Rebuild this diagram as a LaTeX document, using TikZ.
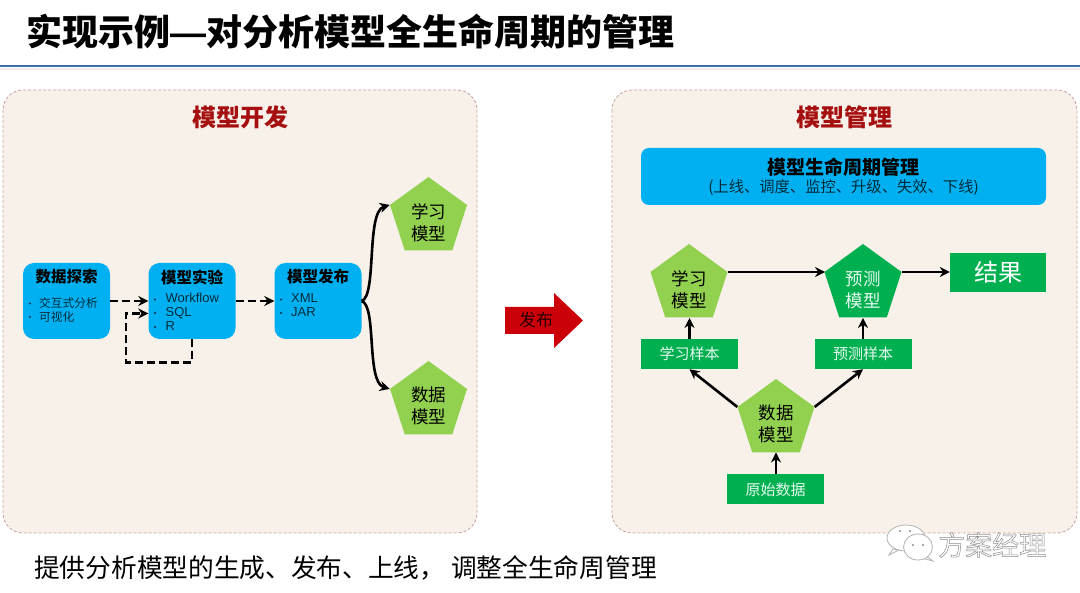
\documentclass[tikz,border=0pt]{standalone}
\usepackage{fontspec}
\setmainfont{Noto Sans CJK SC}
\newfontfamily\latinf{Liberation Sans}
\usetikzlibrary{shapes.geometric,arrows.meta,calc}
\definecolor{panelbg}{HTML}{F8F1E9}
\definecolor{panelln}{HTML}{C9A0A0}
\definecolor{bluebx}{HTML}{00B0F0}
\definecolor{lgreen}{HTML}{92D050}
\definecolor{dgreen}{HTML}{00B050}
\definecolor{hred}{HTML}{A50F0F}
\definecolor{rulec}{HTML}{3F6EA8}
\definecolor{bigred}{HTML}{CC0008}
\tikzset{
  panel/.style={draw=panelln,densely dashed,line width=0.8pt,fill=panelbg,rounded corners=20pt},
  bluebox/.style={fill=bluebx,rounded corners=11pt,minimum width=87pt,minimum height=76pt,inner sep=0pt},
  pent/.style={regular polygon,regular polygon sides=5,minimum size=81pt,inner sep=0pt},
  greenbox/.style={fill=dgreen,minimum width=97pt,minimum height=30pt,inner sep=0pt,text=white!90!dgreen,font=\fontsize{15}{15}\selectfont},
  pentxt/.style={align=center,font=\fontsize{17.5}{22}\selectfont,inner sep=0pt},
  boxhead/.style={font=\fontsize{15.5}{16}\selectfont\bfseries,inner sep=0pt},
  boxlist/.style={align=left,anchor=north west,inner sep=0pt,text=black!75!bluebx},
  panelhead/.style={font=\fontsize{24}{24}\selectfont\bfseries,text=hred,inner sep=0pt},
  solidarrow/.style={line width=2.6pt,-{Stealth[length=10pt,width=10pt]}},
  curvearrow/.style={line width=2.6pt,-{Stealth[length=10pt,width=10pt]}},
  dasharrow/.style={line width=2.8pt,dash pattern=on 8pt off 4pt,-{Stealth[length=10pt,width=10pt]}},
}
\begin{document}
\begin{tikzpicture}[x=1pt,y=-1pt]
\useasboundingbox (0,0) rectangle (1080,593);
\fill[white] (0,0) rectangle (1080,593);
% title
\node[anchor=west,inner sep=0pt,font=\fontsize{36}{36}\selectfont\bfseries] (title) at (26,32) {实现示例{\latinf\bfseries —}对分析模型全生命周期的管理};
\fill[black!8] (0,68) rectangle (1080,70);
\draw[line width=2.5pt,draw=rulec] (0,66) -- (1080,66);
% panels
\draw[panel] (3,90) rectangle (477,533);
\draw[panel] (612,90) rectangle (1077,533);
\node[panelhead] (h1) at (240,117) {模型开发};
\node[panelhead] (h2) at (844,117) {模型管理};
% left boxes
\node[bluebox] (b1) at (66.5,301) {};
\node[bluebox] (b2) at (192,301) {};
\node[bluebox] (b3) at (318,301) {};
\node[boxhead] (t1) at (66.5,277) {数据探索};
\node[boxhead] (t2) at (192,277) {模型实验};
\node[boxhead] (t3) at (318,277) {模型发布};
\node[boxlist,font=\fontsize{11.7}{14}\selectfont] (l1) at (39,297) {交互式分析\\可视化};
\node[boxlist,font=\fontsize{13}{14}\selectfont\latinf] (l2) at (165.5,293) {Workflow\\SQL\\R};
\node[boxlist,font=\fontsize{13}{14}\selectfont\latinf] (l3) at (291,293) {XML\\JAR};
\foreach \nm/\x/\y in {a1/30/303.5,a2/30/317,a3/155/299.5,a4/155/313,a5/155/327,a6/281/299.5,a7/281/313}
  \fill[black!70!bluebx] (\x,\y) circle (1.1pt);
% left pentagons
\node[pent,fill=lgreen] (p1) at (428.5,217.5) {};
\node[pent,fill=lgreen] (p2) at (428.5,401.5) {};
\node[pentxt] (pt1) at (428.5,222.5) {学习\\模型};
\node[pentxt] (pt2) at (428.5,405.5) {数据\\模型};
% left connectors
\draw[dasharrow] (b1.east) -- (b2.west);
\draw[dasharrow] (b2.east) -- (b3.west);
\coordinate (loopin) at (b2.west |- 0,313.5);
\draw[dasharrow] (b2.south) -- ++(0,23) -| (126,313.5) -- (loopin);
\draw[curvearrow] (b3.east) .. controls (377,296) and (366,212) .. (p1.corner 2);
\draw[curvearrow] (b3.east) .. controls (377,306) and (366,382) .. (p2.corner 2);
% big arrow
\fill[bigred] (505,307) -- (554,307) -- (554,293) -- (583,320.5) -- (554,348) -- (554,334) -- (505,334) -- cycle;
\node[inner sep=0pt,text=black!80!bigred,font=\fontsize{17}{17}\selectfont] (fb) at (536,320.5) {发布};
% right blue
\node[fill=bluebx,rounded corners=8pt,minimum width=405pt,minimum height=57pt,inner sep=0pt] (lc) at (843.5,176.5) {};
\node[inner sep=0pt,font=\fontsize{19}{19}\selectfont\bfseries] (lc1) at (843.5,167) {模型生命周期管理};
\node[inner sep=0pt,text=black!75!bluebx,font=\fontsize{15.3}{15}\selectfont] (lc2) at (843.5,188) {(上线、调度、监控、升级、失效、下线)};
% right pentagons
\node[pent,fill=lgreen] (q1) at (689,284.5) {};
\node[pent,fill=dgreen] (q2) at (863,284.5) {};
\node[pent,fill=lgreen] (q3) at (776,419.5) {};
\node[pentxt] (qt1) at (689,289.5) {学习\\模型};
\node[pentxt,text=white!90!dgreen] (qt2) at (863,289.5) {预测\\模型};
\node[pentxt] (qt3) at (776,424) {数据\\模型};
% right boxes
\node[fill=dgreen,minimum width=96pt,minimum height=39pt,inner sep=0pt,text=white,font=\fontsize{24}{24}\selectfont] (res) at (998,272.5) {结果};
\node[greenbox] (s1) at (689.5,354) {学习样本};
\node[greenbox] (s2) at (863,354) {预测样本};
\node[greenbox] (s3) at (775.5,489.5) {原始数据};
% right connectors
\coordinate (q1r) at (728,272);
\coordinate (q2l) at (825,272);
\coordinate (q2r) at (902,272);
\coordinate (q1b) at (689.5,318);
\coordinate (q2b) at (863,318);
\draw[solidarrow] (q1r) -- (q2l);
\draw[solidarrow] (q2r) -- (res.west |- q2r);
\draw[solidarrow] (s1.north) -- (q1b);
\draw[solidarrow] (s2.north) -- (q2b);
\draw[solidarrow] (q3.corner 2) -- (s1.south);
\draw[solidarrow] (q3.corner 5) -- (s2.south);
\draw[solidarrow] (s3.north -| q3.south) -- (q3.south);
% bottom
\node[anchor=west,inner sep=0pt,font=\fontsize{25.7}{26}\selectfont] (cap) at (34,568) {提供分析模型的生成、发布、上线， 调整全生命周管理};
% watermark
\begin{scope}[draw=black!30,fill=white,line width=0.8pt]
\filldraw (893,549) -- (889,555) -- (899,550) -- cycle;
\filldraw (906,538) ellipse (19pt and 13pt);
\filldraw (926,556) -- (933,561) -- (921,558) -- cycle;
\filldraw (918,547) ellipse (14.5pt and 13pt);
\fill[black!45] (900,531) circle (1.1pt) (910,531) circle (1.1pt) (913,545) circle (1.1pt) (923,545) circle (1.1pt);
\end{scope}
\node[anchor=west,inner sep=0pt,text=black!40,font=\fontsize{27}{27}\selectfont] (wm) at (938,545) {\special{pdf:code 1 Tr 0.5 w 0.55 G}方案经理\special{pdf:code 0 Tr 1 w 0 G}};
\end{tikzpicture}
\end{document}
